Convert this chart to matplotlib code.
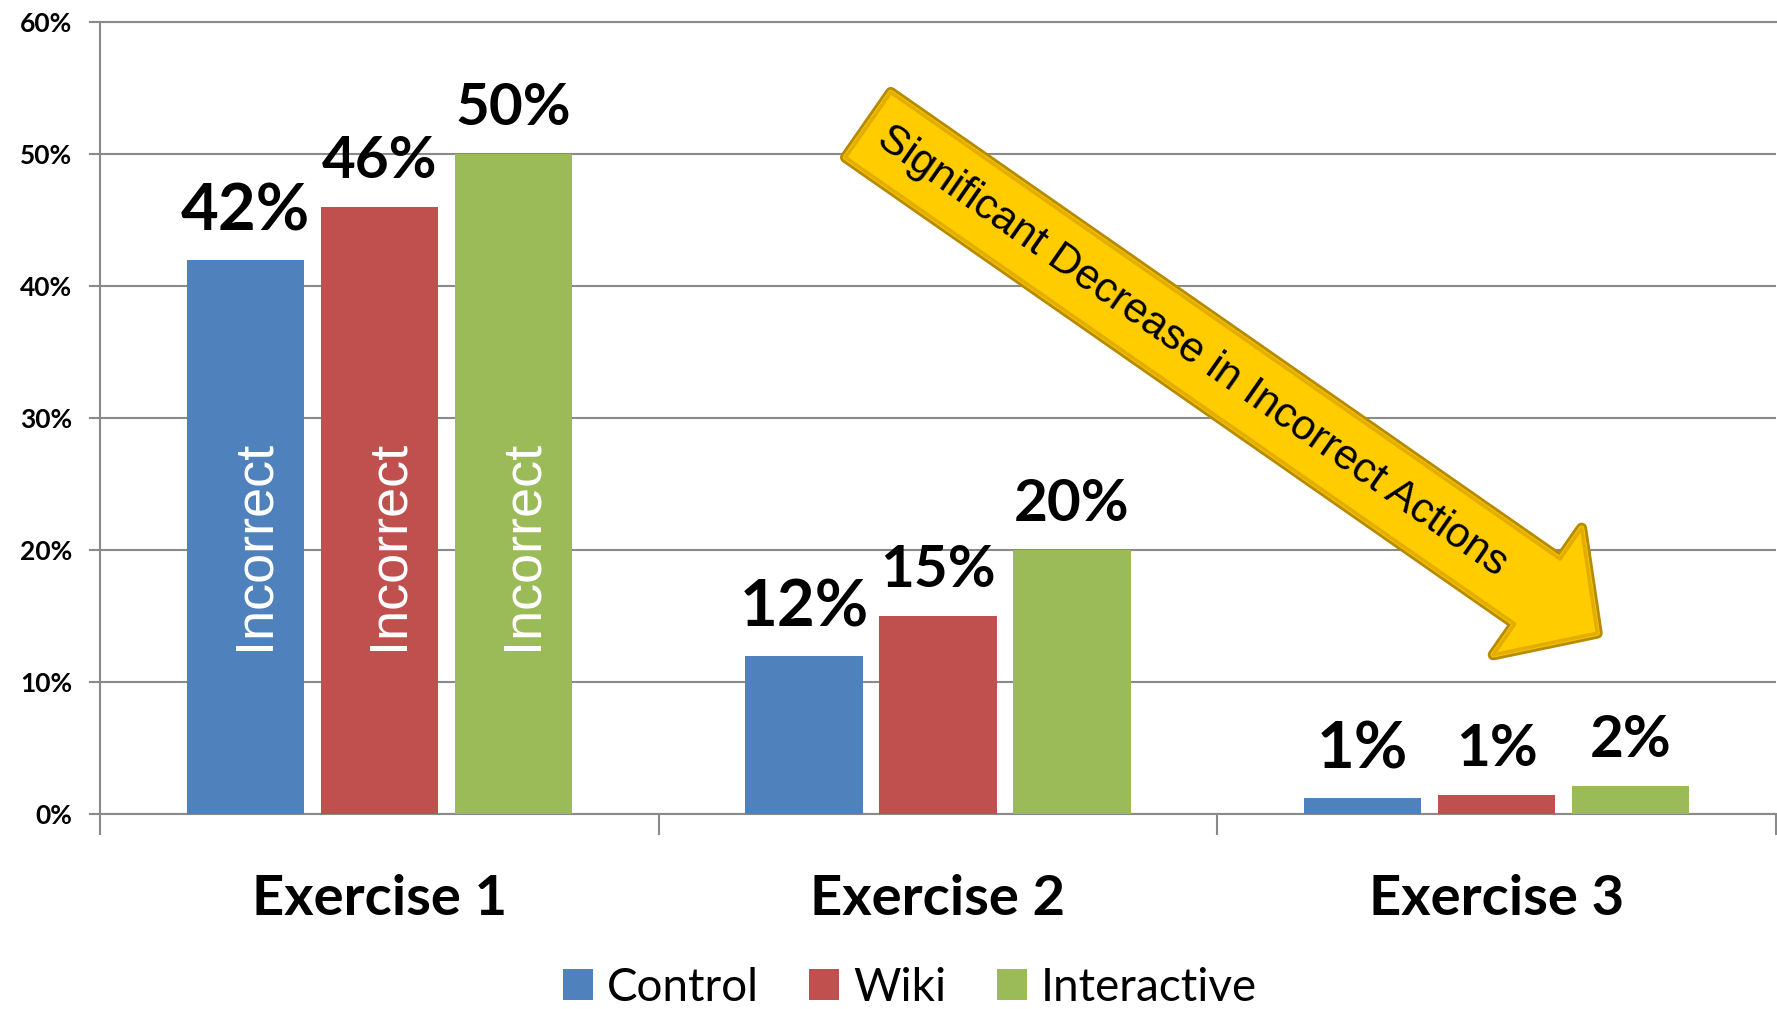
import numpy as np
import matplotlib
matplotlib.use("Agg")
import matplotlib.pyplot as plt
import matplotlib.patheffects as pe

# data
exercises = ["Exercise 1", "Exercise 2", "Exercise 3"]
groups = ["Control", "Wiki", "Interactive"]
control = [42, 12, 1.2]
wiki = [46, 15, 1.4]
interactive = [50, 20, 2.1]
yticks = [0, 10, 20, 30, 40, 50, 60]
bar_note = "Incorrect"
arrow_note = "Significant Decrease in Incorrect Actions"

# styling
colors = ["#4F81BD", "#C0504D", "#9BBB59"]
label_sizes = [47, 42, 42]
gray = "#8A8A8A"
calibri_like = "Lato"
arial_like = "Liberation Sans"

fig = plt.figure(figsize=(17.77, 10.09), dpi=100)
ax = fig.add_axes([0.0563, 0.1933, 0.9431, 0.7849])

x = np.arange(len(exercises))
width = 0.21
offsets = [-0.24, 0.0, 0.24]
series = [control, wiki, interactive]

for vals, name, col, off, fs in zip(series, groups, colors, offsets, label_sizes):
    bars = ax.bar(x + off, vals, width, color=col, label=name, zorder=3)
    for b, v in zip(bars, vals):
        ax.annotate(f"{v:.0f}%", (b.get_x() + b.get_width() / 2, v),
                    xytext=(0, 21), textcoords="offset points",
                    ha="center", va="baseline", fontsize=fs,
                    fontweight="bold", family=calibri_like, zorder=5)
    # white note inside the first group's bars
    ax.text(x[0] + off + 0.042, 20.4, bar_note, rotation=90,
            rotation_mode="anchor", ha="center", va="baseline",
            color="white", fontsize=39, family=arial_like, zorder=4)

ax.set_xlim(-0.5, 2.5)
ax.set_ylim(0, 60)

# y axis
ax.set_yticks(yticks)
ax.set_yticklabels([f"{t}%" for t in yticks], family=calibri_like,
                   fontsize=19, fontweight="bold")
ax.tick_params(axis="y", direction="out", length=8, width=1.5,
               color=gray, pad=12)
ax.yaxis.grid(True, color=gray, linewidth=1.5, zorder=0)
ax.set_axisbelow(True)

# x axis: boundary ticks + category labels
ax.set_xticks([-0.5, 0.5, 1.5, 2.5])
ax.set_xticklabels([])
ax.tick_params(axis="x", which="major", direction="out", length=15,
               width=1.5, color=gray)
ax.set_xticks(x, minor=True)
ax.set_xticklabels(exercises, minor=True, family=calibri_like,
                   fontsize=40.5, fontweight="bold")
ax.tick_params(axis="x", which="minor", length=0, pad=43)

for side in ["left", "bottom", "top"]:
    ax.spines[side].set_color(gray)
    ax.spines[side].set_linewidth(1.5)
ax.spines["right"].set_visible(False)

# big yellow arrow across the chart
tail = (0.875, 52.2)
tip = (2.18, 13.7)
ax.annotate("", xy=tip, xytext=tail, xycoords="data",
            arrowprops=dict(arrowstyle="simple,head_length=0.92,head_width=1.95,tail_width=1.0",
                            mutation_scale=57, fc="#FFCC00", ec="#E3AE00",
                            lw=2.5, shrinkA=0, shrinkB=0,
                            path_effects=[pe.Stroke(linewidth=8, foreground="#B88A00"),
                                          pe.Stroke(linewidth=4, foreground="#F5C400"),
                                          pe.Normal()]),
            zorder=6)
p0 = ax.transData.transform(tail)
p1 = ax.transData.transform(tip)
angle = np.degrees(np.arctan2(p1[1] - p0[1], p1[0] - p0[0]))
tx = tail[0] + 0.445 * (tip[0] - tail[0])
ty = tail[1] + 0.445 * (tip[1] - tail[1])
ax.text(tx, ty, arrow_note, rotation=angle, rotation_mode="anchor",
        ha="center", va="center", fontsize=30.5, family=arial_like,
        color="black", zorder=7)

fig.legend(loc="center", bbox_to_anchor=(0.512, 0.021), ncol=3, frameon=False,
           prop={"family": calibri_like, "size": 33},
           handlelength=0.66, handleheight=0.66, handletextpad=0.3,
           columnspacing=1.1, borderpad=0.1)

fig.savefig("out.png", dpi=100)
